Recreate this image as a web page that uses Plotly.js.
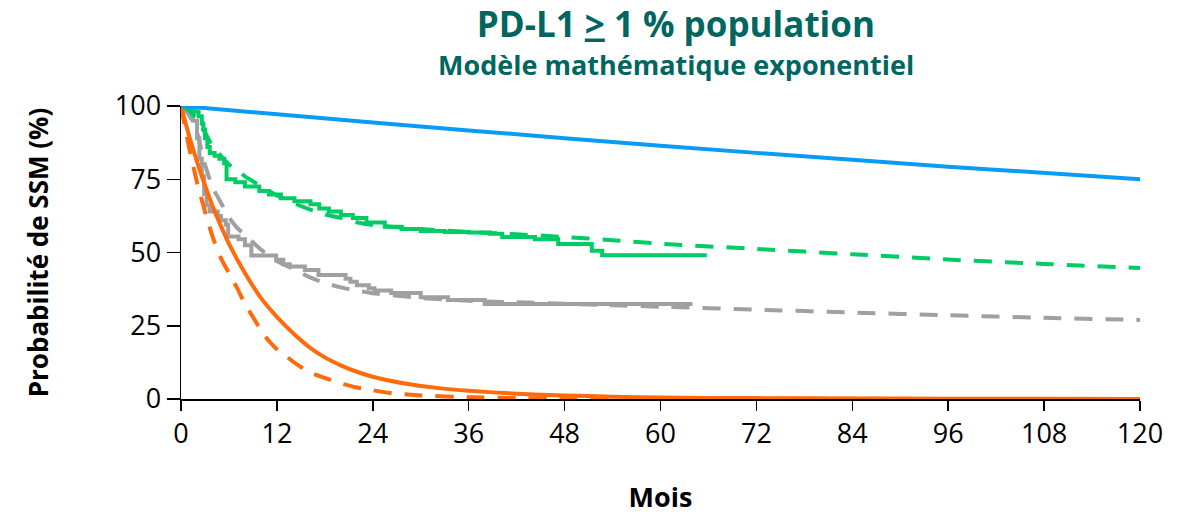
<!DOCTYPE html>
<html>
<head>
<meta charset="utf-8">
<script src="https://cdn.plot.ly/plotly-3.0.1.min.js"></script>
<style>html,body{margin:0;padding:0;background:#fff;}#chart{width:1192px;height:516px;}</style>
</head>
<body>
<div id="chart"></div>
<script>
// ---- Data ----
const xTicks = [0, 12, 24, 36, 48, 60, 72, 84, 96, 108, 120];
const yTicks = [0, 25, 50, 75, 100];

// Blue solid (model)
const blueT = [0, 24, 48, 72, 96, 120];
const blueS = [100, 94.4, 89, 84, 79.3, 75];

// Green Kaplan-Meier (steps)
const greenKmT = [0, 1.2, 1.8, 2.2, 2.6, 2.8, 3.0, 3.3, 3.6, 4.2, 4.8, 5.4, 5.7, 6.8, 8.0, 9.8, 11.0, 12.5, 14.2, 16.2, 17.3, 18.5, 20.0, 21.5, 23.2, 25.5, 27.6, 30.0, 33.0, 36.0, 38.7, 40.2, 44.3, 47.2, 51.4, 52.7, 65.8];
const greenKmS = [100, 99, 98, 96.5, 94, 92, 89, 86, 84, 83, 82, 80.5, 75, 74, 72.5, 71, 69.8, 68.5, 67.5, 66.5, 65, 64, 62.8, 61.8, 60.2, 58.8, 58, 57.3, 57, 56.8, 56.4, 55.3, 54.5, 52.9, 50.6, 49.1, 49.1];

// Green dashed (model)
const greenFitT = [0, 1, 2, 3, 4, 5, 6, 7, 8, 9, 10, 11, 12, 14, 16, 18, 20, 22, 24, 30, 36, 42, 48, 54, 60, 72, 84, 96, 108, 120];
const greenFitS = [100, 98.5, 95.5, 91, 86, 83, 80, 78, 76, 74.3, 72.5, 71, 69.5, 67, 64.8, 63, 61.8, 60.3, 59.4, 58, 57, 56.2, 55.3, 54.2, 53, 51.2, 49.4, 47.6, 46.1, 44.7];

// Grey Kaplan-Meier (steps)
const greyKmT = [0, 1.0, 1.5, 2.0, 2.3, 2.6, 2.9, 3.2, 3.6, 4.6, 5.0, 5.6, 5.9, 7.2, 8.0, 8.8, 11.9, 12.8, 13.6, 15.5, 17.2, 20.6, 21.2, 22.0, 23.5, 24.2, 26.3, 30.0, 33.4, 38.0, 64.0];
const greyKmS = [100, 98.5, 95, 89, 82, 76, 70, 66, 64, 62.5, 61, 59.5, 55.5, 54.5, 52.5, 49, 47.5, 46, 45.2, 44, 42.3, 41, 40, 38.8, 37.8, 37, 36.2, 34.7, 33.8, 32.4, 32.4];

// Grey dashed (model)
const greyFitT = [0, 1, 2, 3, 4, 5, 6, 7, 8, 9, 10, 11, 12, 14, 16, 18, 20, 22, 24, 30, 36, 42, 48, 54, 60, 72, 84, 96, 108, 120];
const greyFitS = [100, 97, 91, 80, 72, 67, 62, 58.5, 56, 53.5, 51, 48.7, 47, 44.5, 41.7, 39.6, 38.1, 37, 36.1, 34.5, 33.5, 33, 32.5, 32, 31.5, 30.5, 29.5, 28.6, 27.7, 27];

// Orange solid (model)
const orangeT = [0, 1, 2, 3, 4, 5, 6, 8, 10, 12, 14, 16, 18, 20, 22, 24, 28, 32, 36, 42, 48, 54, 60, 72, 84, 96, 108, 120];
const orangeS = [100, 90, 81, 73, 65.5, 59, 53, 43, 34.5, 28, 22.5, 17.8, 14.2, 11.5, 9.3, 7.6, 5.3, 3.8, 2.8, 1.8, 1.2, 0.8, 0.5, 0.3, 0.2, 0.1, 0.1, 0];

// Orange dashed (model)
const orangeFitT = [0, 1, 2, 3, 4, 5, 6, 7, 8, 9, 10, 11, 12, 13, 14, 16, 18, 20, 22, 24, 26, 30, 36, 42, 48, 60, 120];
const orangeFitS = [100, 86, 74, 64, 55, 48, 43, 38, 32.5, 28, 23.5, 19.8, 17, 15, 12.8, 9.2, 7.2, 5.3, 3.9, 3, 2.1, 1.2, 0.6, 0.3, 0.2, 0.1, 0];

// ---- Styles ----
const BLUE = '#0A9BF5', GREEN = '#00CC66', GREY = '#A0A0A0', ORANGE = '#FF6A0A';
const LW = 4;
const DASH = '18px,13px';

const traces = [
  {x: greyFitT, y: greyFitS, mode: 'lines', line: {color: GREY, width: LW, dash: DASH, shape: 'spline', smoothing: 0.6}},
  {x: greyKmT, y: greyKmS, mode: 'lines', line: {color: GREY, width: LW, shape: 'hv'}},
  {x: greenFitT, y: greenFitS, mode: 'lines', line: {color: GREEN, width: LW, dash: DASH, shape: 'spline', smoothing: 0.6}},
  {x: greenKmT, y: greenKmS, mode: 'lines', line: {color: GREEN, width: LW, shape: 'hv'}},
  {x: orangeFitT, y: orangeFitS, mode: 'lines', line: {color: ORANGE, width: LW, dash: DASH, shape: 'spline', smoothing: 0.6}},
  {x: orangeT, y: orangeS, mode: 'lines', line: {color: ORANGE, width: LW, shape: 'spline', smoothing: 0.6}},
  {x: blueT, y: blueS, mode: 'lines', line: {color: BLUE, width: LW, shape: 'spline', smoothing: 0.6}}
].map(t => Object.assign({type: 'scatter', hoverinfo: 'skip', showlegend: false, cliponaxis: false}, t));

const FONT = 'Open Sans, Arial, sans-serif';
const TEAL = '#00665F';

const layout = {
  width: 1192, height: 516,
  margin: {l: 181, r: 52, t: 106, b: 117},
  paper_bgcolor: '#ffffff', plot_bgcolor: '#ffffff',
  showlegend: false,
  font: {family: FONT, color: '#000'},
  title: {
    text: 'PD-L1 <u>></u> 1 % population',
    font: {family: FONT, size: 35, color: TEAL, weight: 700},
    x: 0.567, xanchor: 'center', xref: 'container',
    y: 0.953, yanchor: 'middle', yref: 'container'
  },
  annotations: [{
    text: '<b>Modèle mathématique exponentiel</b>',
    xref: 'paper', yref: 'paper',
    x: 0.516, y: (399 - 65) / 293,
    xanchor: 'center', yanchor: 'middle', showarrow: false,
    font: {family: FONT, size: 27, color: TEAL}
  }],
  xaxis: {
    range: [0, 120], tickvals: xTicks, ticktext: xTicks.map(String),
    showline: true, linecolor: '#000', linewidth: 1.5,
    ticks: 'outside', ticklen: 10, tickwidth: 1.5, tickcolor: '#000',
    showgrid: false, zeroline: false,
    tickfont: {family: FONT, size: 27, color: '#000'},
    title: {text: '<b>Mois</b>', font: {family: FONT, size: 27, color: '#000'}, standoff: 38}
  },
  yaxis: {
    range: [0, 100], tickvals: yTicks, ticktext: yTicks.map(String),
    showline: true, linecolor: '#000', linewidth: 1.5,
    ticks: 'outside', ticklen: 13, tickwidth: 1.5, tickcolor: '#000',
    showgrid: false, zeroline: false,
    tickfont: {family: FONT, size: 27, color: '#000'},
    title: {text: '<b>Probabilité de SSM (%)</b>', font: {family: FONT, size: 26, color: '#000'}, standoff: 58}
  }
};

Plotly.newPlot('chart', traces, layout, {staticPlot: true, displayModeBar: false});
</script>
</body>
</html>
